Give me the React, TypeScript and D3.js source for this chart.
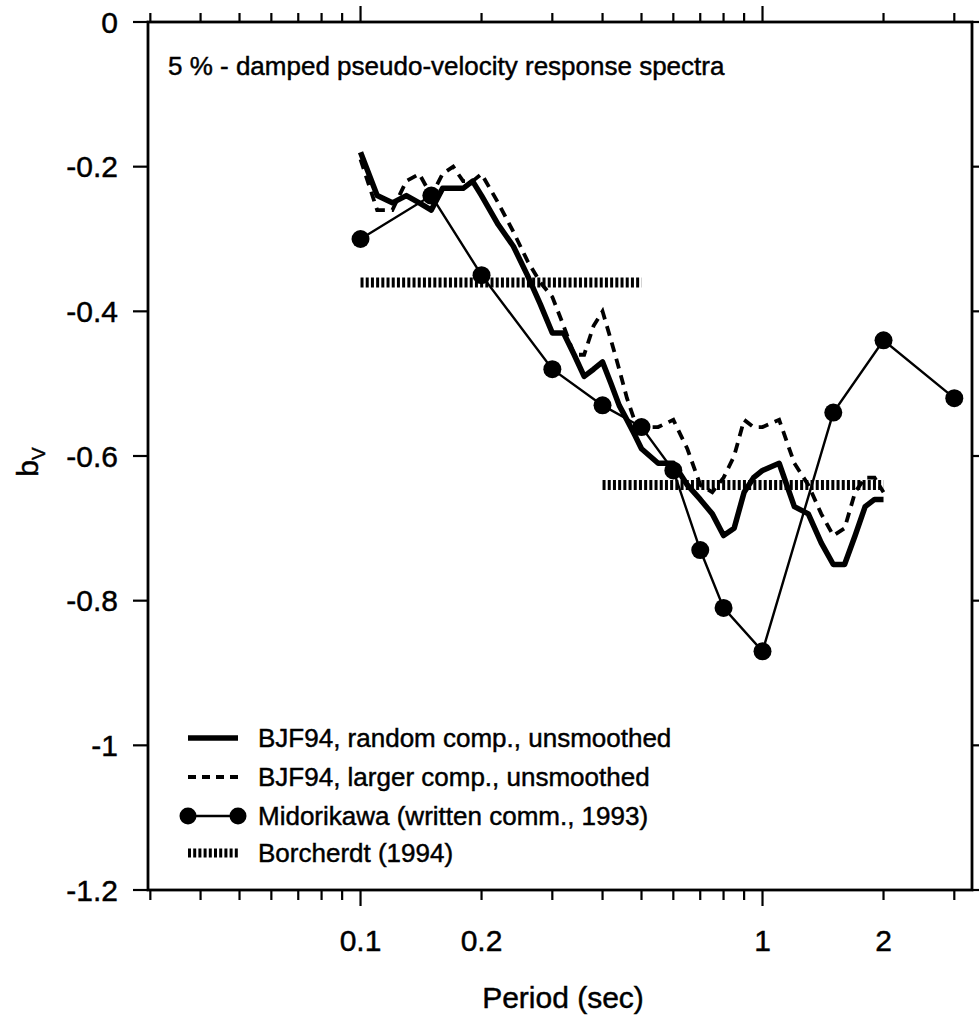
import React from "react";
import * as d3 from "d3";

const periods = [0.1, 0.11, 0.12, 0.13, 0.14, 0.15, 0.16, 0.17, 0.18, 0.19, 0.2, 0.22, 0.24, 0.26, 0.28, 0.3, 0.32, 0.34, 0.36, 0.38, 0.4, 0.42, 0.44, 0.46, 0.48, 0.5, 0.55, 0.6, 0.65, 0.7, 0.75, 0.8, 0.85, 0.9, 0.95, 1.0, 1.1, 1.2, 1.3, 1.4, 1.5, 1.6, 1.7, 1.8, 1.9, 2.0];
const bjfRandom = [-0.18, -0.24, -0.25, -0.24, -0.25, -0.26, -0.23, -0.23, -0.23, -0.22, -0.24, -0.28, -0.31, -0.35, -0.39, -0.43, -0.43, -0.46, -0.49, -0.48, -0.47, -0.5, -0.53, -0.55, -0.57, -0.59, -0.61, -0.61, -0.64, -0.66, -0.68, -0.71, -0.7, -0.65, -0.63, -0.62, -0.61, -0.67, -0.68, -0.72, -0.75, -0.75, -0.71, -0.67, -0.66, -0.66];
const bjfLarger = [-0.19, -0.26, -0.26, -0.22, -0.21, -0.24, -0.21, -0.2, -0.22, -0.22, -0.21, -0.25, -0.29, -0.33, -0.36, -0.38, -0.42, -0.46, -0.46, -0.42, -0.4, -0.44, -0.48, -0.52, -0.55, -0.56, -0.56, -0.55, -0.59, -0.64, -0.65, -0.63, -0.6, -0.55, -0.56, -0.56, -0.55, -0.61, -0.64, -0.68, -0.71, -0.7, -0.65, -0.63, -0.63, -0.65];
const midoPeriods = [0.1, 0.15, 0.2, 0.3, 0.4, 0.5, 0.6, 0.7, 0.8, 1.0, 1.5, 2.0, 3.0];
const midoValues = [-0.3, -0.24, -0.35, -0.48, -0.53, -0.56, -0.62, -0.73, -0.81, -0.87, -0.54, -0.44, -0.52];
const borchStart = [0.1, 0.4];
const borchEnd = [0.5, 2.0];
const borchValues = [-0.36, -0.64];
const xTickLabels = [0.1, 0.2, 1, 2];
const xMajorTicks = [0.1, 1];
const xMinorTicks = [0.03, 0.04, 0.05, 0.06, 0.07, 0.08, 0.09, 0.2, 0.3, 0.4, 0.5, 0.6, 0.7, 0.8, 0.9, 2, 3];
const yTicks = [0, -0.2, -0.4, -0.6, -0.8, -1, -1.2];
const legendLabels = [
  "BJF94, random comp., unsmoothed",
  "BJF94, larger comp., unsmoothed",
  "Midorikawa (written comm., 1993)",
  "Borcherdt (1994)",
];
const title = "5 % - damped pseudo-velocity response spectra";

const FONT = "'Liberation Sans', Arial, Helvetica, sans-serif";

export default function App() {
  const W = 979, H = 1015;
  const L = 148, R = 972, T = 22, B = 890;
  const x = d3.scaleLog().domain([0.0296, 3.32]).range([L, R]);
  const y = d3.scaleLinear().domain([-1.2, 0]).range([B, T]);

  const line = d3.line<[number, number]>().x((d) => x(d[0])).y((d) => y(d[1]));
  const randPts = periods.map((p, i) => [p, bjfRandom[i]] as [number, number]);
  const largPts = periods.map((p, i) => [p, bjfLarger[i]] as [number, number]);
  const midoPts = midoPeriods.map((p, i) => [p, midoValues[i]] as [number, number]);

  const fmtY = (v: number) => (v === 0 ? "0" : String(v));

  const legY = [738, 777, 816, 853];
  const lx0 = 188, lx1 = 238, ltx = 258;
  const txt = { stroke: "#000", strokeWidth: 0.45 };

  return (
    <svg width={W} height={H} style={{ display: "block", position: "absolute", left: 0, top: 0, background: "#fff" }} fontFamily={FONT}>
      <rect x={0} y={0} width={W} height={H} fill="#fff" />
      {/* frame */}
      <rect x={L} y={T} width={R - L} height={B - T} fill="none" stroke="#000" strokeWidth={2.8} />
      {/* x ticks bottom & top */}
      {xMinorTicks.map((t) => (
        <g key={"mn" + t}>
          <line x1={x(t)} x2={x(t)} y1={B} y2={B + 10} stroke="#000" strokeWidth={2.2} />
          <line x1={x(t)} x2={x(t)} y1={T} y2={T - 9} stroke="#000" strokeWidth={2.2} />
        </g>
      ))}
      {xMajorTicks.map((t) => (
        <g key={"mj" + t}>
          <line x1={x(t)} x2={x(t)} y1={B} y2={B + 16} stroke="#000" strokeWidth={2.2} />
          <line x1={x(t)} x2={x(t)} y1={T} y2={T - 16} stroke="#000" strokeWidth={2.2} />
        </g>
      ))}
      {xTickLabels.map((t) => (
        <text key={"xl" + t} x={x(t)} y={951} fontSize={30} textAnchor="middle" {...txt}>
          {String(t)}
        </text>
      ))}
      {/* y ticks */}
      {yTicks.map((v) => (
        <g key={"yt" + v}>
          <line x1={L - 15} x2={L} y1={y(v)} y2={y(v)} stroke="#000" strokeWidth={2.2} />
          <line x1={R} x2={R + 8} y1={y(v)} y2={y(v)} stroke="#000" strokeWidth={2.2} />
          <text x={118} y={y(v)} dy="0.36em" fontSize={30} textAnchor="end" {...txt}>
            {fmtY(v)}
          </text>
        </g>
      ))}
      {/* axis titles */}
      <text x={563} y={1008} fontSize={30} textAnchor="middle" {...txt}>Period (sec)</text>
      <text transform={`translate(38,462) rotate(-90)`} fontSize={30} textAnchor="middle" {...txt}>
        b<tspan fontSize={19} dy={7}>V</tspan>
      </text>
      {/* title */}
      <text x={168} y={75} fontSize={26} {...txt}>{title}</text>

      {/* Borcherdt */}
      {borchValues.map((v, i) => (
        <line key={"bo" + i} x1={x(borchStart[i])} x2={x(borchEnd[i])} y1={y(v)} y2={y(v)} stroke="#000" strokeWidth={10} strokeDasharray="3 2.2" />
      ))}
      {/* Midorikawa */}
      <path d={line(midoPts) || ""} fill="none" stroke="#000" strokeWidth={2.4} />
      {midoPts.map((d, i) => (
        <circle key={"mc" + i} cx={x(d[0])} cy={y(d[1])} r={9} fill="#000" />
      ))}
      {/* BJF larger dashed */}
      <path d={line(largPts) || ""} fill="none" stroke="#000" strokeWidth={3.8} strokeDasharray="10 7" />
      {/* BJF random */}
      <path d={line(randPts) || ""} fill="none" stroke="#000" strokeWidth={5.5} strokeLinejoin="round" />

      {/* legend */}
      <line x1={lx0} x2={lx1} y1={legY[0]} y2={legY[0]} stroke="#000" strokeWidth={5.5} />
      <line x1={lx0} x2={lx1} y1={legY[1]} y2={legY[1]} stroke="#000" strokeWidth={3.8} strokeDasharray="8 6" />
      <line x1={lx0} x2={lx1} y1={legY[2]} y2={legY[2]} stroke="#000" strokeWidth={2.4} />
      <circle cx={lx0} cy={legY[2]} r={8.5} fill="#000" />
      <circle cx={lx1} cy={legY[2]} r={8.5} fill="#000" />
      <line x1={lx0} x2={lx1} y1={legY[3]} y2={legY[3]} stroke="#000" strokeWidth={9} strokeDasharray="3 2.2" />
      {legendLabels.map((s, i) => (
        <text key={"lg" + i} x={ltx} y={legY[i]} dy="0.36em" fontSize={26} {...txt}>{s}</text>
      ))}
    </svg>
  );
}
